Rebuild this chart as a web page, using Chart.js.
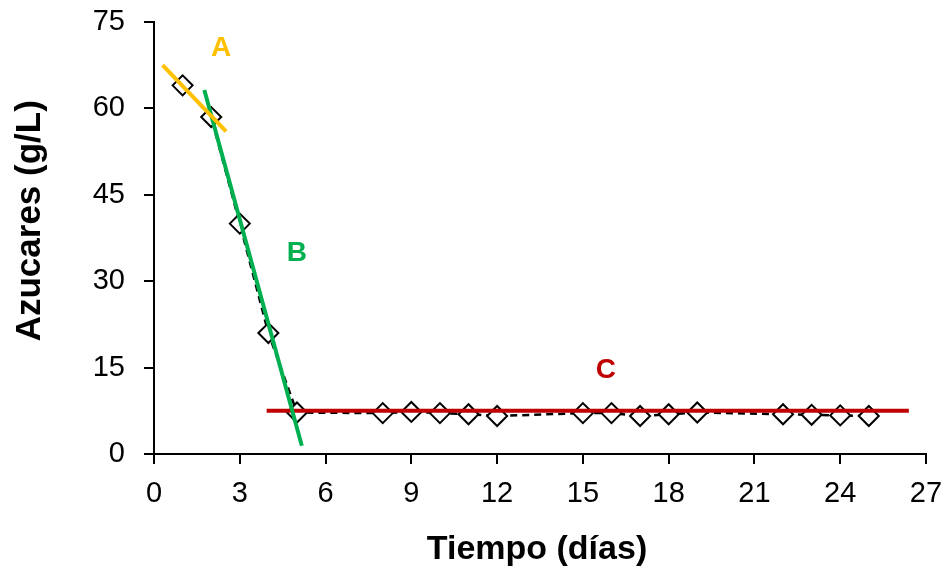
<!DOCTYPE html>
<html>
<head>
<meta charset="utf-8">
<script src="https://cdn.jsdelivr.net/npm/chart.js@4.4.0/dist/chart.umd.min.js"></script>
<style>
  html, body { margin: 0; padding: 0; background: #fff; }
  #wrap { width: 949px; height: 578px; }
</style>
</head>
<body>
<div id="wrap"><canvas id="c" width="949" height="578"></canvas></div>
<script>
// ---- data ----
const days   = [1, 2, 3, 4, 5, 8, 9, 10, 11, 12, 15, 16, 17, 18, 19, 22, 23, 24, 25];
const sugars = [64, 58.5, 40, 21, 7.2, 7.1, 7.3, 7.1, 6.9, 6.6, 7.1, 7.1, 6.6, 6.9, 7.2, 6.9, 6.8, 6.7, 6.6];

const trendAx = [0.3, 2.52];  const trendAy = [67.5, 56.0];
const trendBx = [1.76, 5.17]; const trendBy = [63.2, 1.44];
const trendCx = [3.94, 26.4]; const trendCy = [7.5, 7.5];

const phaseLabels = ['A', 'B', 'C'];
const phaseX = [2.35, 5.0, 15.8];
const phaseY = [70.4, 34.9, 14.6];
const phaseColors = ['#FFC000', '#00B050', '#C00000'];

const xTitle = 'Tiempo (días)';
const yTitle = 'Azucares (g/L)';

const toPts = (xs, ys) => xs.map((x, i) => ({ x: x, y: ys[i] }));

const FONT = '"Liberation Sans", Arial, sans-serif';

const phasePlugin = {
  id: 'phaseLabels',
  afterDatasetsDraw(chart) {
    const { ctx, scales } = chart;
    ctx.save();
    ctx.font = 'bold 28px ' + FONT;
    ctx.textAlign = 'center';
    ctx.textBaseline = 'middle';
    phaseLabels.forEach((t, i) => {
      ctx.fillStyle = phaseColors[i];
      ctx.fillText(t, scales.x.getPixelForValue(phaseX[i]), scales.y.getPixelForValue(phaseY[i]));
    });
    ctx.restore();
  }
};

const titlePlugin = {
  id: 'axisTitles',
  afterDraw(chart) {
    const { ctx, chartArea } = chart;
    ctx.save();
    ctx.fillStyle = '#000';
    ctx.font = 'bold 34px ' + FONT;
    ctx.textAlign = 'center';
    ctx.textBaseline = 'middle';
    ctx.fillText(xTitle, (chartArea.left + chartArea.right) / 2 - 3, chartArea.bottom + 96);
    ctx.translate(30, chartArea.top + chartArea.height * 0.46);
    ctx.rotate(-Math.PI / 2);
    ctx.font = 'bold 35px ' + FONT;
    ctx.fillText(yTitle, 0, 0);
    ctx.restore();
  }
};

const trendStyle = (color) => ({
  borderColor: color, borderWidth: 4, pointRadius: 0, showLine: true, fill: false, order: 0
});

new Chart(document.getElementById('c'), {
  type: 'scatter',
  data: {
    datasets: [
      Object.assign({ data: toPts(trendAx, trendAy) }, trendStyle('#FFC000')),
      Object.assign({ data: toPts(trendBx, trendBy) }, trendStyle('#00B050')),
      Object.assign({ data: toPts(trendCx, trendCy) }, trendStyle('#C00000')),
      {
        data: toPts(days, sugars),
        showLine: true,
        borderColor: '#000',
        borderWidth: 2.5,
        borderDash: [7, 5],
        pointStyle: 'rectRot',
        pointRadius: 10,
        pointBorderWidth: 2,
        pointBorderColor: '#000',
        pointBackgroundColor: '#fff',
        order: 1
      }
    ]
  },
  options: {
    responsive: false,
    animation: false,
    layout: { padding: { top: 22, right: 23, left: 0, bottom: 0 } },
    plugins: { legend: { display: false }, tooltip: { enabled: false } },
    scales: {
      x: {
        type: 'linear', min: 0, max: 27,
        afterBuildTicks(s) { s.ticks = []; for (let v = 0; v <= 27; v += 3) s.ticks.push({ value: v }); },
        ticks: { stepSize: 3, color: '#000', font: { family: FONT, size: 29 }, padding: 13, maxRotation: 0 },
        grid: { display: true, drawOnChartArea: false, drawTicks: true, tickLength: 10, color: '#000', lineWidth: 2 },
        border: { display: true, color: '#000', width: 2 },
        afterFit(s) { s.height = 124; s.paddingLeft = 0; s.paddingRight = 0; }
      },
      y: {
        type: 'linear', min: 0, max: 75,
        afterBuildTicks(s) { s.ticks = []; for (let v = 0; v <= 75; v += 15) s.ticks.push({ value: v }); },
        ticks: { stepSize: 15, color: '#000', font: { family: FONT, size: 29 }, padding: 19 },
        grid: { display: true, drawOnChartArea: false, drawTicks: true, tickLength: 10, color: '#000', lineWidth: 2 },
        border: { display: true, color: '#000', width: 2 },
        afterFit(s) { s.width = 154; s.paddingTop = 0; s.paddingBottom = 0; }
      }
    }
  },
  plugins: [phasePlugin, titlePlugin]
});
</script>
</body>
</html>
